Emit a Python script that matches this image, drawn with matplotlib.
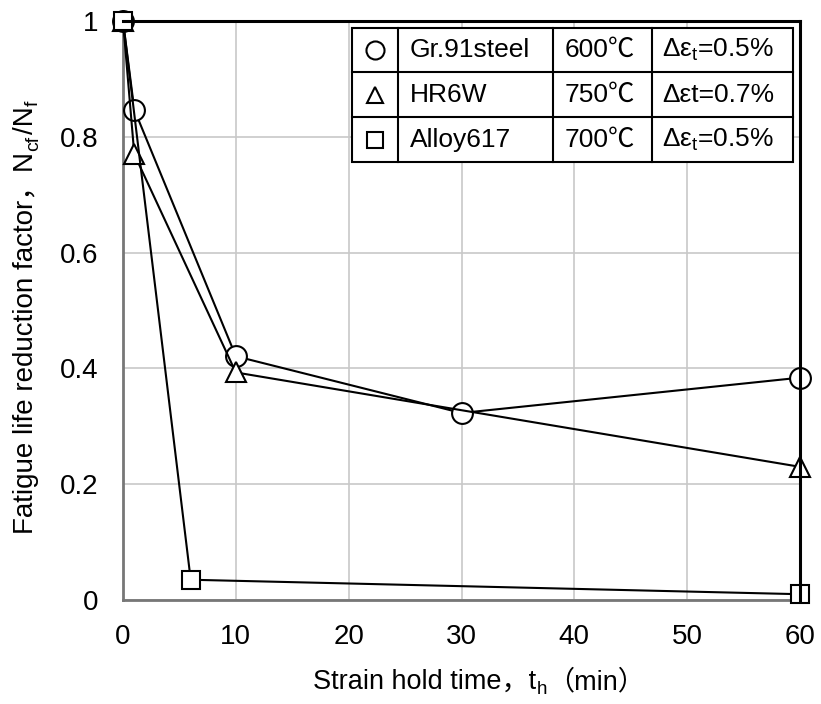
import matplotlib
matplotlib.use("Agg")
import matplotlib.pyplot as plt
from matplotlib.lines import Line2D
from matplotlib.patches import Rectangle
from matplotlib.transforms import IdentityTransform

plt.rcParams['font.family'] = ['Liberation Sans', 'Noto Sans CJK JP', 'DejaVu Sans']
plt.rcParams['mathtext.fontset'] = 'custom'
plt.rcParams['mathtext.rm'] = 'Liberation Sans'
plt.rcParams['mathtext.it'] = 'Liberation Sans'

# Data
gr91_x = [0, 1, 10, 30, 60]
gr91_y = [1.0, 0.847, 0.421, 0.323, 0.384]
hr6w_x = [0, 1, 10, 60]
hr6w_y = [1.0, 0.77, 0.393, 0.23]
a617_x = [0, 6, 60]
a617_y = [1.0, 0.035, 0.01]

legend_names = ['Gr.91steel', 'HR6W', 'Alloy617']
legend_temps = ['600℃', '750℃', '700℃']
legend_strain = ['Δε$_\\mathregular{t}$=0.5%', 'Δεt=0.7%', 'Δε$_\\mathregular{t}$=0.5%']
legend_markers = ['o', '^', 's']

x_ticks = [0, 10, 20, 30, 40, 50, 60]
y_ticks = [0, 0.2, 0.4, 0.6, 0.8, 1.0]
y_ticklabels = ['0', '0.2', '0.4', '0.6', '0.8', '1']

# (text, fontsize, subscript shift px, gap before px)
xlabel_pieces = [('Strain hold time，t', 19.5, 0, 0), ('h', 13.5, 5, 1), ('（min）', 19.5, 0, 0)]
ylabel_pieces = [('Fatigue life reduction factor，N', 20, 0, 0), ('cf', 14, 5, 1),
                 ('/N', 20, 0, 1), ('f', 14, 5, 1)]

fig = plt.figure(figsize=(8.21, 7.04), dpi=100)
ax = fig.add_axes([123/821, 1-600/704, (800-123)/821, (600-21)/704])

mk = dict(color='black', lw=1.5, markerfacecolor='white', markeredgecolor='black',
          markeredgewidth=1.5, clip_on=False, zorder=5)
ax.plot(gr91_x, gr91_y, marker='o', markersize=15, **mk)
ax.plot(hr6w_x, hr6w_y, marker='^', markersize=14, **mk)
ax.plot(a617_x, a617_y, marker='s', markersize=13, **mk)

ax.set_xlim(0, 60)
ax.set_ylim(0, 1)
ax.set_xticks(x_ticks)
ax.set_yticks(y_ticks)
ax.set_yticklabels(y_ticklabels)
ax.tick_params(length=0, labelsize=20)
ax.tick_params(axis='y', pad=18)
ax.tick_params(axis='x', pad=17)
ax.grid(True, color='#c8c8c8', lw=1.2)
ax.set_axisbelow(True)
for s in ['left', 'bottom']:
    ax.spines[s].set_color('#777777')
    ax.spines[s].set_linewidth(2)
for s in ['top', 'right']:
    ax.spines[s].set_color('black')
    ax.spines[s].set_linewidth(2.2)
    ax.spines[s].set_zorder(6)

# legend table
cols = [0.338, 0.406, 0.635, 0.781, 0.990]
rows = [0.988, 0.912, 0.834, 0.756]
tr = ax.transAxes
ax.add_patch(Rectangle((cols[0], rows[-1]), cols[-1]-cols[0], rows[0]-rows[-1],
                       transform=tr, facecolor='white', edgecolor='black', lw=1.5, zorder=7))
for c in cols[1:-1]:
    ax.add_line(Line2D([c, c], [rows[-1], rows[0]], transform=tr, color='black', lw=1.5, zorder=8))
for r in rows[1:-1]:
    ax.add_line(Line2D([cols[0], cols[-1]], [r, r], transform=tr, color='black', lw=1.5, zorder=8))
for i in range(3):
    yc = (rows[i] + rows[i+1]) / 2
    ax.add_line(Line2D([(cols[0]+cols[1])/2], [yc], transform=tr, marker=legend_markers[i],
                       markersize=13 if i == 0 else 12, markerfacecolor='white',
                       markeredgecolor='black', markeredgewidth=1.5, zorder=9))
    ax.text(cols[1]+0.018, yc, legend_names[i], transform=tr, va='center', ha='left', fontsize=19, zorder=9)
    ax.text(cols[2]+0.018, yc, legend_temps[i], transform=tr, va='center', ha='left', fontsize=19, zorder=9)
    ax.text(cols[3]+0.015, yc, legend_strain[i], transform=tr, va='center', ha='left', fontsize=19, zorder=9)


def rich(pieces, x, y, rot):
    texts = []
    for s, size, shift, gap in pieces:
        t = fig.text(0, 0, s, fontsize=size, transform=IdentityTransform(), rotation=rot,
                     rotation_mode='anchor', ha='left', va='baseline')
        texts.append(t)
    fig.canvas.draw()
    r = fig.canvas.get_renderer()
    lens = []
    for t in texts:
        bb = t.get_window_extent(r)
        lens.append(bb.width if rot == 0 else bb.height)
    total = sum(lens) + sum(p[3] for p in pieces)
    pos = -total / 2
    for t, (s, size, shift, gap), L in zip(texts, pieces, lens):
        pos += gap
        if rot == 0:
            t.set_position((x + pos, y - shift))
        else:
            t.set_position((x + shift, y + pos))
        pos += L


rich(xlabel_pieces, 479, 704 - 689, 0)
rich(ylabel_pieces, 33, 704 - 317, 90)

fig.savefig('out.png', dpi=100)
